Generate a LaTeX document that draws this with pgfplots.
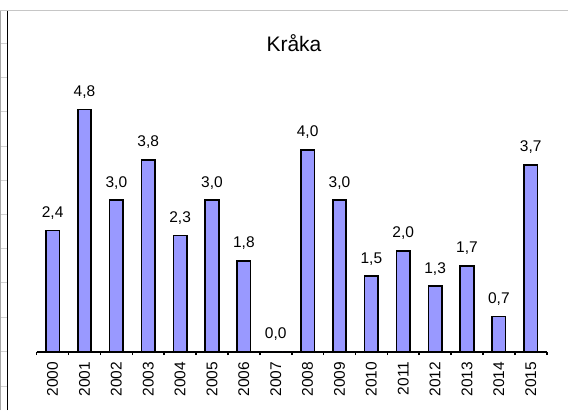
\documentclass[border=0pt]{standalone}
\usepackage{fontspec}
\setmainfont{Liberation Sans}
\usepackage{pgfplots}
\pgfplotsset{compat=1.18}
\definecolor{barfill}{RGB}{153,153,255}
\begin{document}
\begin{tikzpicture}
\path[use as bounding box] (0pt,0pt) rectangle (568pt,410pt);
\draw[gray!45, line width=1.2pt] (0pt,399.5pt) -- (568pt,399.5pt);
\draw[gray!70, line width=1pt] (0.5pt,0pt) -- (0.5pt,399pt);
\draw[black, line width=1.6pt] (7.5pt,0pt) -- (7.5pt,399pt);
\foreach \yy in {44,78,112,147,181,215,249,283,318,352,386}
  \draw[gray!35, line width=1pt] (1pt,{(410-\yy)*1pt}) -- (6.5pt,{(410-\yy)*1pt});
\begin{axis}[
  at={(36.7pt,58.3pt)}, anchor=south west,
  scale only axis, width=510pt, height=328pt,
  xmin=-0.5, xmax=15.5, ymin=0, ymax=6.5,
  axis y line=none, axis x line*=bottom,
  x axis line style={-, line width=1.6pt, black},
  xtick={0,...,15},
  xticklabels={2000,2001,2002,2003,2004,2005,2006,2007,2008,2009,2010,2011,2012,2013,2014,2015},
  major tick length=0pt,
  extra x ticks={-0.5,0.5,...,15.5},
  extra x tick labels={},
  extra x tick style={major tick length=3.5pt, tick align=outside, tick style={black, line width=1.6pt}},
  xticklabel style={rotate=90, anchor=east, inner sep=0pt, font=\fontsize{15.5}{15.5}\selectfont},
  xticklabel shift=10pt,
  /pgf/number format/assume math mode=true,
  ybar, bar width=13.5pt,
  nodes near coords={\pgfmathprintnumber[fixed,fixed zerofill,precision=1,use comma]{\pgfplotspointmeta}},
  every node near coord/.append style={anchor=base, yshift=13pt, inner sep=0pt, text=black, font=\fontsize{15.5}{15.5}\selectfont},
  clip=false,
]
\addplot[fill=barfill, draw=black, line width=1.7pt] coordinates {
(0,2.4) (1,4.8) (2,3.0) (3,3.8) (4,2.3) (5,3.0) (6,1.8) (7,0.0)
(8,4.0) (9,3.0) (10,1.5) (11,2.0) (12,1.3) (13,1.7) (14,0.7) (15,3.7)};
\end{axis}
\node[anchor=base, inner sep=0pt, font=\fontsize{21}{21}\selectfont] at (294pt,358.3pt) {Kråka};
\end{tikzpicture}
\end{document}
